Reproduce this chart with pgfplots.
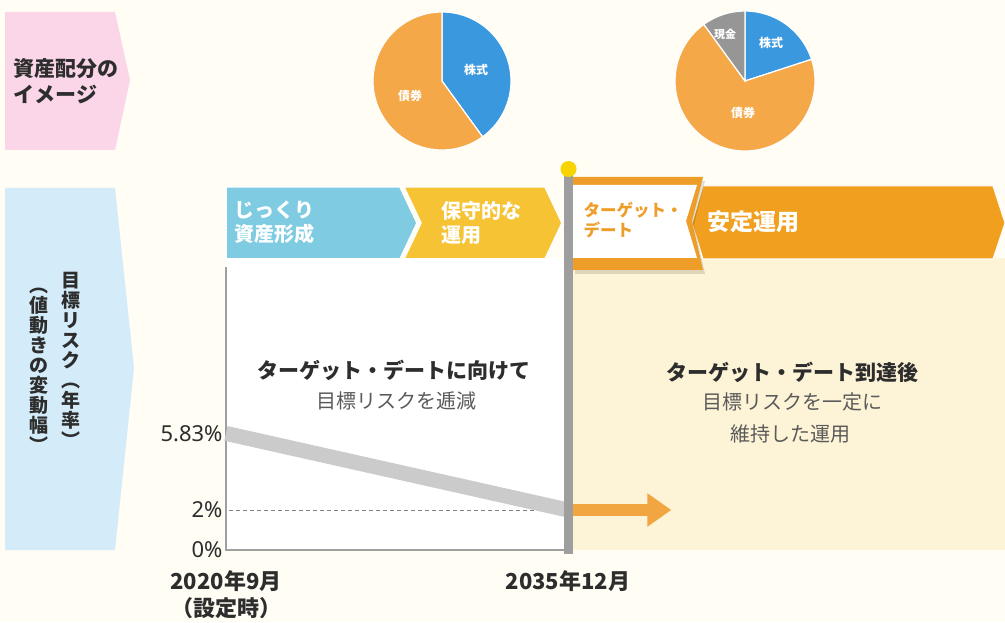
\documentclass[border=0pt]{standalone}
\usepackage{pgfplots}
\pgfplotsset{compat=1.18}
\usepackage{fontspec}
\setmainfont{Noto Sans CJK JP}
\newfontfamily\numfont{Noto Sans}
\usetikzlibrary{arrows.meta}

\definecolor{bg}{RGB}{255,253,244}
\definecolor{cream}{RGB}{253,243,214}
\definecolor{pinkbox}{RGB}{250,214,232}
\definecolor{bluebox}{RGB}{212,236,249}
\definecolor{phaseblue}{RGB}{126,203,226}
\definecolor{phaseyellow}{RGB}{245,195,52}
\definecolor{phaseorange}{RGB}{240,160,30}
\definecolor{flagorange}{RGB}{238,158,40}
\definecolor{arroworange}{RGB}{242,166,66}
\definecolor{pieorange}{RGB}{245,168,72}
\definecolor{pieblue}{RGB}{58,152,222}
\definecolor{piegray}{RGB}{150,150,150}
\definecolor{riskgray}{RGB}{203,203,203}
\definecolor{polegray}{RGB}{158,158,158}
\definecolor{ballyellow}{RGB}{247,212,0}
\definecolor{txt}{RGB}{45,45,45}
\definecolor{subtxt}{RGB}{90,90,90}

\newcommand{\fs}[2]{\fontsize{#1}{#2}\selectfont}
% pie slice: centre x, centre y, radius, start angle, end angle, colour
\newcommand{\pieslice}[6]{%
  \filldraw[fill=#6, draw=white, line width=1.2pt]
    (#1,#2) -- ++(#4:#3) arc[start angle=#4, end angle=#5, radius=#3] -- cycle;}

\begin{document}
\begin{tikzpicture}[x=1pt,y=1pt]
\useasboundingbox (0,0) rectangle (1005,622);
\fill[bg] (0,0) rectangle (1005,622);

% left row headers
\fill[pinkbox] (5,610) -- (115,610) -- (130,542) -- (115,472) -- (5,472) -- cycle;
\node[anchor=west, align=left, font=\fs{21}{26}\bfseries, text=txt] at (10,541)
  {資産配分の\\イメージ};
\fill[bluebox] (5,434) -- (115,434) -- (134,254) -- (115,72) -- (5,72) -- cycle;
\node[align=center, font=\fs{19}{20}\bfseries, text=txt] at (71,262)
  {目\\標\\リ\\ス\\ク\\︵\\年\\率\\︶};
\node[align=center, font=\fs{19}{20}\bfseries, text=txt] at (39,252)
  {︵\\値\\動\\き\\の\\変\\動\\幅\\︶};

% asset allocation pies (shares in %)
\pgfmathsetmacro{\aStock}{40}
\pgfmathsetmacro{\aEnd}{90-3.6*\aStock}
\pieslice{442}{541}{69}{90}{\aEnd}{pieblue}
\pieslice{442}{541}{69}{\aEnd}{-270}{pieorange}
\node[font=\fs{12}{13}\bfseries, text=white] at (476,552) {株式};
\node[font=\fs{12}{13}\bfseries, text=white] at (410,526) {債券};

\pgfmathsetmacro{\bStock}{20}
\pgfmathsetmacro{\bBond}{70}
\pgfmathsetmacro{\bEndA}{90-3.6*\bStock}
\pgfmathsetmacro{\bEndB}{\bEndA-3.6*\bBond}
\pieslice{745}{541}{70}{90}{\bEndA}{pieblue}
\pieslice{745}{541}{70}{\bEndA}{\bEndB}{pieorange}
\pieslice{745}{541}{70}{\bEndB}{-270}{piegray}
\node[font=\fs{11}{12}\bfseries, text=white] at (725,588) {現金};
\node[font=\fs{12}{13}\bfseries, text=white] at (771,579) {株式};
\node[font=\fs{12}{13}\bfseries, text=white] at (743,509) {債券};

% risk chart
\begin{axis}[
  at={(226pt,72pt)}, anchor=south west,
  width=779pt, height=292pt, scale only axis,
  xmin=2020.75, xmax=2055.3, ymin=0, ymax=14.6,
  clip=false,
  axis line style={draw=none}, tick style={draw=none},
  xtick={2020.75,2035.917},
  xticklabels={{2020年9月\\（設定時）},{2035年12月}},
  xticklabel style={align=center, font=\fs{22}{27}\bfseries, text=txt,
    anchor=north, yshift=-17pt},
  ytick={0,2,5.83},
  yticklabels={0\%,2\%,5.83\%},
  yticklabel style={font=\fs{22}{24}\numfont, text=txt, anchor=east},
  /pgf/number format/assume math mode=true,
]
\fill[white] (axis cs:2020.75,0) rectangle (axis cs:2035.917,14.6);
\fill[cream] (axis cs:2035.917,0) rectangle (axis cs:2055.3,14.6);
\draw[gray!75, line width=1.3pt] (axis cs:2020.75,14.15) -- (axis cs:2020.75,0)
  -- (axis cs:2035.917,0);
\addplot[gray, dash pattern=on 4pt off 3pt, line width=0.9pt] coordinates {(2020.9,2) (2035.6,2)};
\addplot[riskgray, line width=15pt] coordinates {(2020.75,5.83) (2035.917,2)};
\addplot[arroworange, line width=12pt, -{Triangle[length=24pt, width=32pt]}]
  coordinates {(2035.917,2) (2040.5,2)};
\end{axis}

% plot texts
\node[font=\fs{21}{24}\bfseries, text=txt] at (394,252) {ターゲット・デートに向けて};
\node[font=\fs{20}{22}, text=subtxt] at (396,221) {目標リスクを逓減};
\node[font=\fs{21}{24}\bfseries, text=txt] at (792,250) {ターゲット・デート到達後};
\node[font=\fs{20}{22}, text=subtxt] at (792,220) {目標リスクを一定に};
\node[font=\fs{20}{22}, text=subtxt] at (790,188) {維持した運用};

% phase band
\filldraw[fill=phaseorange, draw=white, line width=1pt]
  (703,436) -- (993,436) -- (1005,399) -- (993,363) -- (703,363) -- (692,399) -- cycle;
\node[anchor=west, font=\fs{23}{26}\bfseries, text=white] at (704,400) {安定運用};
\filldraw[fill=phaseblue, draw=white, line width=1.5pt]
  (226,435) -- (400,435) -- (417,399) -- (400,363) -- (226,363) -- cycle;
\filldraw[fill=phaseyellow, draw=white, line width=1.5pt]
  (404,435) -- (545,435) -- (562,399) -- (545,363) -- (404,363) -- (421,399) -- cycle;
\node[anchor=west, align=left, font=\fs{20}{24}\bfseries, text=white] at (231,400)
  {じっくり\\資産形成};
\node[anchor=west, align=left, font=\fs{20}{24}\bfseries, text=white] at (438,399)
  {保守的な\\運用};

% flag
\fill[black, opacity=0.12] (575,441) -- (705,441) -- (694,397) -- (705,348) -- (575,348) -- cycle;
\fill[flagorange] (573,445) -- (703,445) -- (692,401) -- (703,352) -- (573,352) -- cycle;
\fill[white] (573,437) -- (697,437) -- (686,401) -- (697,364) -- (573,364) -- cycle;
\node[anchor=west, align=left, font=\fs{16.5}{20}\bfseries, text=flagorange] at (580,402)
  {ターゲット・\\デート};

% pole
\fill[polegray] (564,68) rectangle (573,452);
\fill[ballyellow] (568.5,453) circle (8);
\end{tikzpicture}
\end{document}
